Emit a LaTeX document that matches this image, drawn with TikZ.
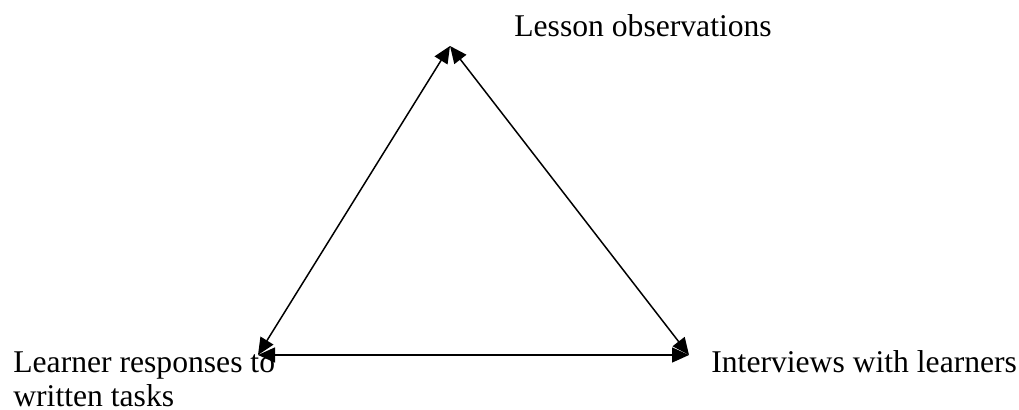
\documentclass[tikz,border=0pt]{standalone}
\usepackage{fontspec}
\setmainfont{Liberation Serif}
\usetikzlibrary{arrows.meta, positioning}

\begin{document}
\begin{tikzpicture}[
    link/.style={{Triangle[length=0.34cm, width=0.3cm]}-{Triangle[length=0.34cm, width=0.3cm]}, line width=0.85pt},
    label/.style={anchor=base west, inner sep=0pt, font=\fontsize{18}{19.4}\selectfont, align=left}
  ]
  \useasboundingbox (0,0) rectangle (20.38,8.2);
  % corners of the triangle
  \coordinate (lesson) at (9.0,7.28);
  \coordinate (written) at (5.16,1.1);
  \coordinate (interview) at (13.78,1.1);
  % labels
  \node[label] (lessontxt) at (10.28,7.46) {Lesson observations};
  \node[label] (interviewtxt) at (14.22,0.74) {Interviews with learners};
  \node[label] (writtentxt) at (0.26,0.06) {Learner responses to\\written tasks};
  % double arrows
  \draw[link] (lesson) -- (written);
  \draw[link] (lesson) -- (interview);
  \draw[link] (written) -- (interview);
\end{tikzpicture}
\end{document}
